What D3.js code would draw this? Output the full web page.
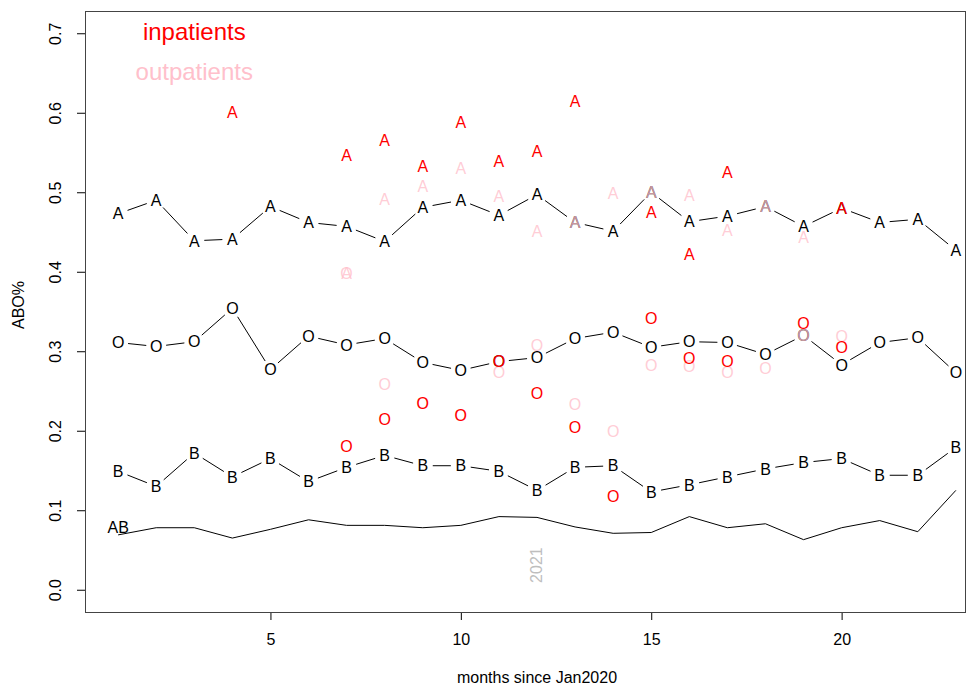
<!DOCTYPE html>
<html lang="en">
  <head>
    <meta charset="utf-8" />
    <title>ABO% by month</title>
    <script src="https://cdn.jsdelivr.net/npm/d3@7"></script>
    <style>
      body { margin: 0; background: #fff; }
      svg text { font-family: "Liberation Sans", Arial, Helvetica, sans-serif; }
    </style>
  </head>
  <body>
    <svg id="chart" width="979" height="686"></svg>
    <script>
      // months since Jan2020
      const months = [1, 2, 3, 4, 5, 6, 7, 8, 9, 10, 11, 12, 13, 14, 15, 16, 17, 18, 19, 20, 21, 22, 23];

      // overall share of each blood group
      const overallA = [0.473, 0.490, 0.439, 0.441, 0.482, 0.462, 0.457, 0.438, 0.481, 0.490, 0.471, 0.497,
                        0.462, 0.451, 0.500, 0.463, 0.470, 0.482, 0.457, 0.480, 0.462, 0.466, 0.427];
      const overallO = [0.311, 0.306, 0.312, 0.354, 0.277, 0.319, 0.308, 0.316, 0.286, 0.276, 0.287, 0.292,
                        0.316, 0.324, 0.305, 0.312, 0.311, 0.296, 0.320, 0.283, 0.311, 0.317, 0.273];
      const overallB = [0.149, 0.130, 0.172, 0.142, 0.165, 0.136, 0.154, 0.169, 0.156, 0.156, 0.149, 0.125,
                        0.154, 0.156, 0.123, 0.132, 0.142, 0.152, 0.160, 0.165, 0.144, 0.144, 0.179];
      const overallAB = [0.069, 0.078, 0.078, 0.065, 0.076, 0.088, 0.081, 0.081, 0.078, 0.081, 0.092, 0.091,
                         0.079, 0.071, 0.072, 0.092, 0.078, 0.083, 0.063, 0.078, 0.087, 0.073, 0.125];

      // inpatients / outpatients (null = no point)
      const inpatA = [null, null, null, 0.601, null, null, 0.546, 0.565, 0.533, 0.588, 0.539, 0.551,
                      0.614, null, 0.475, 0.422, 0.525, null, null, 0.480, null, null, null];
      const inpatO = [null, null, null, null, null, null, 0.181, 0.214, 0.235, 0.220, 0.287, 0.247,
                      0.205, 0.118, 0.342, 0.291, 0.287, null, 0.335, 0.305, null, null, null];
      const outpatA = [null, null, null, null, null, null, 0.398, 0.491, 0.507, 0.530, 0.495, 0.451,
                       0.462, 0.499, 0.500, 0.496, 0.452, 0.482, 0.444, null, null, null, null];
      const outpatO = [null, null, null, null, null, null, 0.398, 0.259, 0.234, 0.219, 0.273, 0.307,
                       0.233, 0.199, 0.283, 0.281, 0.273, 0.279, 0.320, 0.319, null, null, null];

      const xTicks = [5, 10, 15, 20];
      const yTicks = [0, 0.1, 0.2, 0.3, 0.4, 0.5, 0.6, 0.7];

      const svg = d3.select("#chart");
      const box = { left: 85, right: 965, top: 11, bottom: 612 };

      const x = d3.scaleLinear().domain([0.13, 23.24]).range([box.left, box.right]);
      const y = d3.scaleLinear().domain([-0.028, 0.728]).range([box.bottom, box.top]);

      // axes
      svg.append("g")
        .attr("transform", `translate(0,${box.bottom})`)
        .call(d3.axisBottom(x).tickValues(xTicks).tickSize(8).tickPadding(14).tickFormat(d3.format("d")))
        .call(g => g.select(".domain").remove())
        .call(g => g.selectAll(".tick text").attr("font-size", "16px").attr("fill", "#000")
          .attr("font-family", "Liberation Sans, Arial, sans-serif"));

      svg.append("g")
        .attr("transform", `translate(${box.left},0)`)
        .call(d3.axisLeft(y).tickValues(yTicks).tickSize(8).tickFormat(d3.format(".1f")))
        .call(g => g.select(".domain").remove())
        .call(g => g.selectAll(".tick text")
          .attr("font-size", "16px").attr("fill", "#000")
          .attr("font-family", "Liberation Sans, Arial, sans-serif")
          .attr("text-anchor", "middle")
          .attr("transform", "rotate(-90)")
          .attr("x", 0).attr("y", -24.5).attr("dy", null));

      svg.append("rect")
        .attr("x", box.left + 0.5).attr("y", box.top + 0.5)
        .attr("width", box.right - box.left).attr("height", box.bottom - box.top)
        .attr("fill", "none").attr("stroke", "#444");

      svg.append("text")
        .attr("x", 537).attr("y", 683)
        .attr("text-anchor", "middle").attr("font-size", "16px")
        .text("months since Jan2020");

      svg.append("text")
        .attr("transform", "translate(24,305) rotate(-90)")
        .attr("text-anchor", "middle").attr("font-size", "16px")
        .text("ABO%");

      // year marker
      svg.append("text")
        .attr("transform", `translate(${x(12) + 5.5},${y(0.031)}) rotate(-90)`)
        .attr("text-anchor", "middle").attr("font-size", "16px").attr("fill", "#bebebe")
        .text("2021");

      // R-style type "b": segments stop short of each letter
      const gap = 10;
      function connect(vals) {
        const g = svg.append("g").attr("stroke", "#000").attr("stroke-width", 1);
        for (let i = 1; i < months.length; i++) {
          if (vals[i - 1] == null || vals[i] == null) continue;
          const x0 = x(months[i - 1]), y0 = y(vals[i - 1]);
          const x1 = x(months[i]), y1 = y(vals[i]);
          const len = Math.hypot(x1 - x0, y1 - y0);
          if (len <= 2 * gap) continue;
          const ux = (x1 - x0) / len, uy = (y1 - y0) / len;
          g.append("line")
            .attr("x1", x0 + ux * gap).attr("y1", y0 + uy * gap)
            .attr("x2", x1 - ux * gap).attr("y2", y1 - uy * gap);
        }
      }

      function letters(vals, label, color, opacity) {
        svg.append("g")
          .selectAll("text")
          .data(months.map((m, i) => ({ m, v: vals[i] })).filter(d => d.v != null))
          .join("text")
          .attr("x", d => x(d.m))
          .attr("y", d => y(d.v))
          .attr("dy", "0.36em")
          .attr("text-anchor", "middle")
          .attr("font-size", "16px")
          .attr("fill", color)
          .attr("fill-opacity", opacity)
          .text(label);
      }

      connect(overallA);
      connect(overallO);
      connect(overallB);
      letters(overallA, "A", "#000", 1);
      letters(overallO, "O", "#000", 1);
      letters(overallB, "B", "#000", 1);

      svg.append("path")
        .datum(months.map((m, i) => [m, overallAB[i]]))
        .attr("fill", "none").attr("stroke", "#000").attr("stroke-width", 1)
        .attr("d", d3.line().x(d => x(d[0])).y(d => y(d[1])));

      svg.append("text")
        .attr("x", x(1)).attr("y", y(overallAB[0] + 0.01)).attr("dy", "0.36em")
        .attr("text-anchor", "middle").attr("font-size", "16px")
        .text("AB");

      letters(outpatA, "A", "pink", 0.8);
      letters(outpatO, "O", "pink", 0.8);
      letters(inpatA, "A", "red", 1);
      letters(inpatO, "O", "red", 1);

      // legend
      svg.append("text")
        .attr("x", x(3)).attr("y", y(0.702)).attr("dy", "0.35em")
        .attr("text-anchor", "middle").attr("font-size", "24px").attr("fill", "red")
        .text("inpatients");
      svg.append("text")
        .attr("x", x(3)).attr("y", y(0.652)).attr("dy", "0.35em")
        .attr("text-anchor", "middle").attr("font-size", "24px").attr("fill", "pink")
        .text("outpatients");
    </script>
  </body>
</html>
